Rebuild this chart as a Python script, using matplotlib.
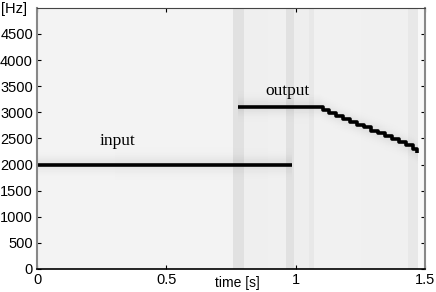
import numpy as np
import matplotlib
matplotlib.use("Agg")
import matplotlib.pyplot as plt

# ---- data ----
input_t = [0.0, 0.985]
input_f = [2000, 2000]

output_t = [0.775, 1.09, 1.105, 1.13, 1.157, 1.184, 1.211, 1.238, 1.265, 1.292,
            1.319, 1.346, 1.373, 1.40, 1.427, 1.454, 1.47]
output_f = [3100, 3100, 3050, 2990, 2930, 2870, 2820, 2760, 2710, 2650,
            2600, 2540, 2490, 2430, 2370, 2300, 2230]

# background spectrogram columns: band start, band end (s), gray level
band_start = [0.0, 0.30, 0.755, 0.80, 0.89, 0.96, 0.99, 1.05, 1.07, 1.25, 1.43, 1.47]
band_end   = [0.30, 0.755, 0.80, 0.89, 0.96, 0.99, 1.05, 1.07, 1.25, 1.43, 1.47, 1.50]
band_level = [0.955, 0.95, 0.88, 0.935, 0.94, 0.88, 0.93, 0.91, 0.945, 0.94, 0.91, 0.97]

yticks = [0, 500, 1000, 1500, 2000, 2500, 3000, 3500, 4000, 4500]
xticks = [0, 0.5, 1, 1.5]
xticklabels = ["0", "0.5", "1", "1.5"]

plt.rcParams['font.family'] = ['Liberation Sans', 'DejaVu Sans']

fig = plt.figure(figsize=(4.36, 2.92), dpi=100)
ax = fig.add_axes([0.085, 0.079, 0.89, 0.894])

# build background image
nx, ny = 600, 250
tt = np.linspace(0, 1.5, nx)
ff = np.linspace(0, 5000, ny)
img = np.zeros((ny, nx))
for s, e, l in zip(band_start, band_end, band_level):
    m = (tt >= s) & (tt < e)
    img[:, m] = l
img[:, -1] = band_level[-1]
T, F = np.meshgrid(tt, ff)
in_f = np.where(tt <= input_t[1], input_f[0], np.nan)
out_f = np.interp(tt, output_t, output_f, left=np.nan, right=np.nan)
for trk in (in_f, out_f):
    d = np.abs(F - trk[None, :])
    shade = np.where(np.isnan(d), 0, 0.06 * np.exp(-(np.nan_to_num(d, nan=1e9) / 150.0) ** 2))
    img = img - shade
ax.imshow(img, extent=[0, 1.5, 0, 5000], origin='lower', aspect='auto',
          cmap='gray', vmin=0, vmax=1, interpolation='nearest')

ax.plot(input_t, input_f, color='black', lw=2.6, solid_capstyle='butt')
ax.step(output_t, output_f, where='post', color='black', lw=2.6, solid_capstyle='butt')

ax.text(0.31, 2450, "input", family='Liberation Serif', fontsize=12.5, ha='center', va='center')
ax.text(0.97, 3400, "output", family='Liberation Serif', fontsize=12.5, ha='center', va='center')

ax.set_xlim(0, 1.5)
ax.set_ylim(0, 5000)
ax.set_xticks(xticks)
ax.set_xticklabels(xticklabels)
ax.set_yticks(yticks)
ax.tick_params(direction='in', length=3, labelsize=10.5, top=True, right=True, pad=3)
for sp in ['left', 'right']:
    ax.spines[sp].set_color('#888888')
    ax.spines[sp].set_linewidth(1.5)
ax.spines['top'].set_color('#444444')
ax.spines['bottom'].set_color('black')
ax.spines['bottom'].set_linewidth(1.2)

fig.text(0.545, 0.03, "time [s]", fontsize=10, ha='center', va='center')
fig.text(0.003, 0.968, "[Hz]", fontsize=10.5, ha='left', va='center')

fig.savefig("out.png", dpi=100)
